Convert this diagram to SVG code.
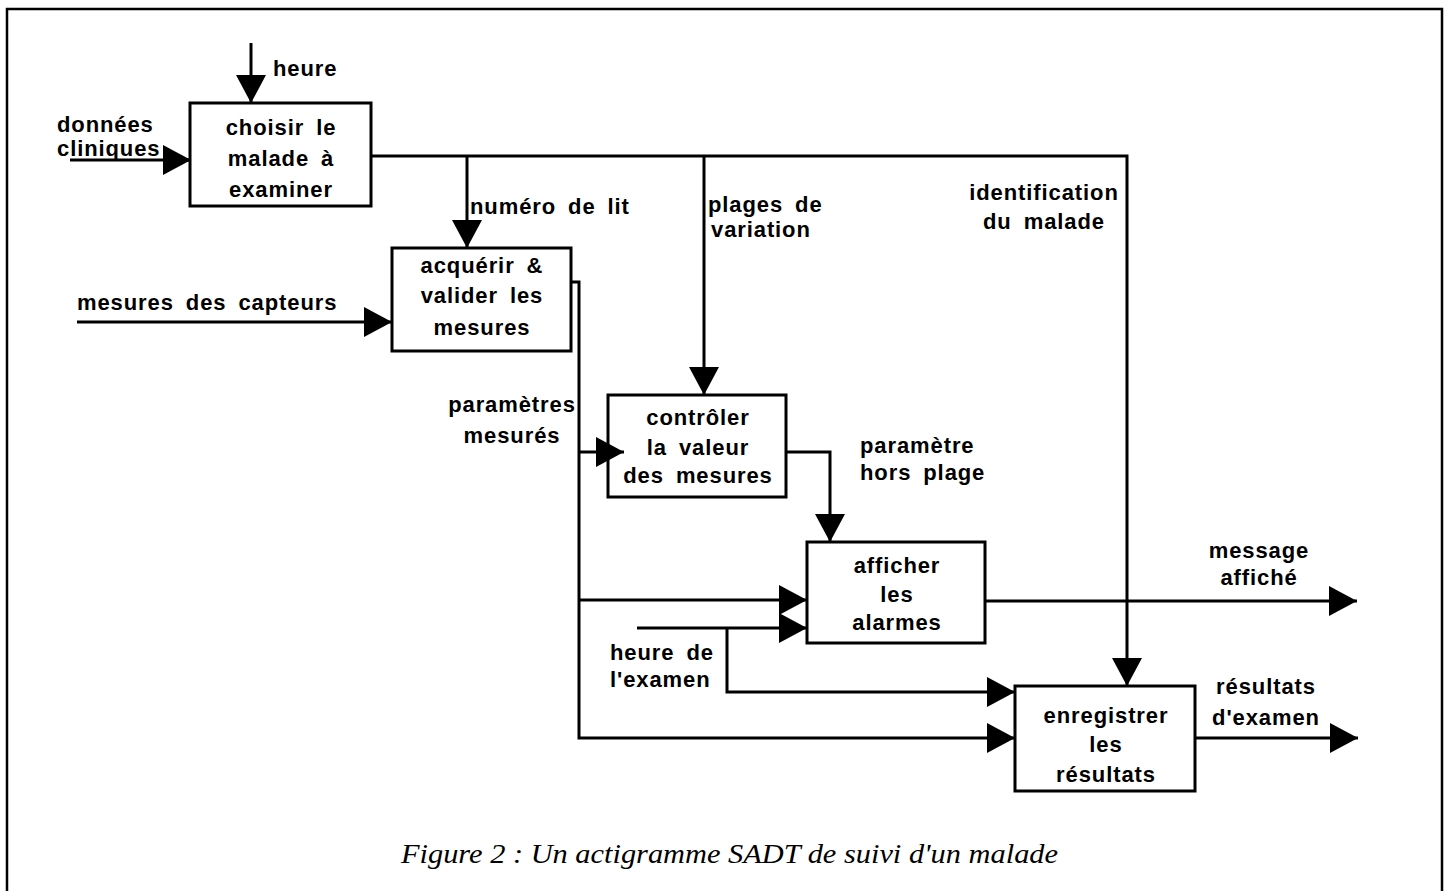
<svg xmlns="http://www.w3.org/2000/svg" width="1449" height="891" viewBox="0 0 1449 891">
<style>
.frame{fill:none;stroke:#000;stroke-width:2.5}
.box{fill:none;stroke:#000;stroke-width:3}
.ln{fill:none;stroke:#000;stroke-width:3;stroke-linejoin:miter}
.arr{marker-end:url(#ah)}
text{font-family:"Liberation Sans",Arial,sans-serif;font-weight:bold;font-size:22px;letter-spacing:0.9px;word-spacing:5px;fill:#000}
.c{text-anchor:middle}
.cap{font-family:"Liberation Serif","Times New Roman",serif;font-style:italic;font-weight:normal;font-size:28px;letter-spacing:0;word-spacing:0}
</style>
<defs>
<marker id="ah" markerUnits="userSpaceOnUse" markerWidth="30" markerHeight="32" refX="28" refY="15" orient="auto" viewBox="0 0 30 32">
<path d="M0,0 L28,15 L0,30 Z" fill="#000"/>
</marker>
</defs>
<rect width="1449" height="891" fill="#fff"/>
<path class="frame" d="M7,891 V9 H1442 V891"/>

<g id="connectors">
<line class="ln arr" x1="251" y1="43" x2="251" y2="103"/>
<line class="ln arr" x1="70" y1="160" x2="191" y2="160"/>
<path class="ln arr" d="M371,156 H1127 V686"/>
<line class="ln arr" x1="467" y1="156" x2="467" y2="248"/>
<line class="ln arr" x1="704" y1="156" x2="704" y2="395"/>
<line class="ln arr" x1="77" y1="322" x2="392" y2="322"/>
<path class="ln arr" d="M571,282 H579 V738 H1015"/>
<line class="ln arr" x1="579" y1="452" x2="624" y2="452"/>
<line class="ln arr" x1="579" y1="600" x2="807" y2="600"/>
<path class="ln arr" d="M786,452 H830 V542"/>
<line class="ln arr" x1="637" y1="628" x2="807" y2="628"/>
<path class="ln arr" d="M727,628 V692 H1015"/>
<line class="ln arr" x1="985" y1="601" x2="1357" y2="601"/>
<line class="ln arr" x1="1195" y1="738" x2="1358" y2="738"/>
</g>

<g id="labels">
<text x="273" y="76">heure</text>
<text x="57" y="132">données</text>
<text x="57" y="156">cliniques</text>
<text x="470" y="214">numéro de lit</text>
<text x="708" y="212">plages de</text>
<text x="711" y="237">variation</text>
<text class="c" x="1044" y="200">identification</text>
<text class="c" x="1044" y="229">du malade</text>
<text x="77" y="310">mesures des capteurs</text>
<text class="c" x="512" y="412">paramètres</text>
<text class="c" x="512" y="443">mesurés</text>
<text x="860" y="453">paramètre</text>
<text x="860" y="480">hors plage</text>
<text class="c" x="1259" y="558">message</text>
<text class="c" x="1259" y="585">affiché</text>
<text x="610" y="660">heure de</text>
<text x="610" y="687">l'examen</text>
<text class="c" x="1266" y="694">résultats</text>
<text class="c" x="1266" y="725">d'examen</text>
</g>

<g id="n1">
<rect class="box" x="190" y="103" width="181" height="103"/>
<text class="c" x="281" y="135">choisir le</text>
<text class="c" x="281" y="166">malade à</text>
<text class="c" x="281" y="197">examiner</text>
</g>
<g id="n2">
<rect class="box" x="392" y="248" width="179" height="103"/>
<text class="c" x="482" y="273">acquérir &amp;</text>
<text class="c" x="482" y="303">valider les</text>
<text class="c" x="482" y="335">mesures</text>
</g>
<g id="n3">
<rect class="box" x="608" y="395" width="178" height="102"/>
<text class="c" x="698" y="425">contrôler</text>
<text class="c" x="698" y="455">la valeur</text>
<text class="c" x="698" y="483">des mesures</text>
</g>
<g id="n4">
<rect class="box" x="807" y="542" width="178" height="101"/>
<text class="c" x="897" y="573">afficher</text>
<text class="c" x="897" y="602">les</text>
<text class="c" x="897" y="630">alarmes</text>
</g>
<g id="n5">
<rect class="box" x="1015" y="686" width="180" height="105"/>
<text class="c" x="1106" y="723">enregistrer</text>
<text class="c" x="1106" y="752">les</text>
<text class="c" x="1106" y="782">résultats</text>
</g>

<text class="cap" x="401" y="863" textLength="657" lengthAdjust="spacingAndGlyphs">Figure 2 : Un actigramme SADT de suivi d'un malade</text>
</svg>
